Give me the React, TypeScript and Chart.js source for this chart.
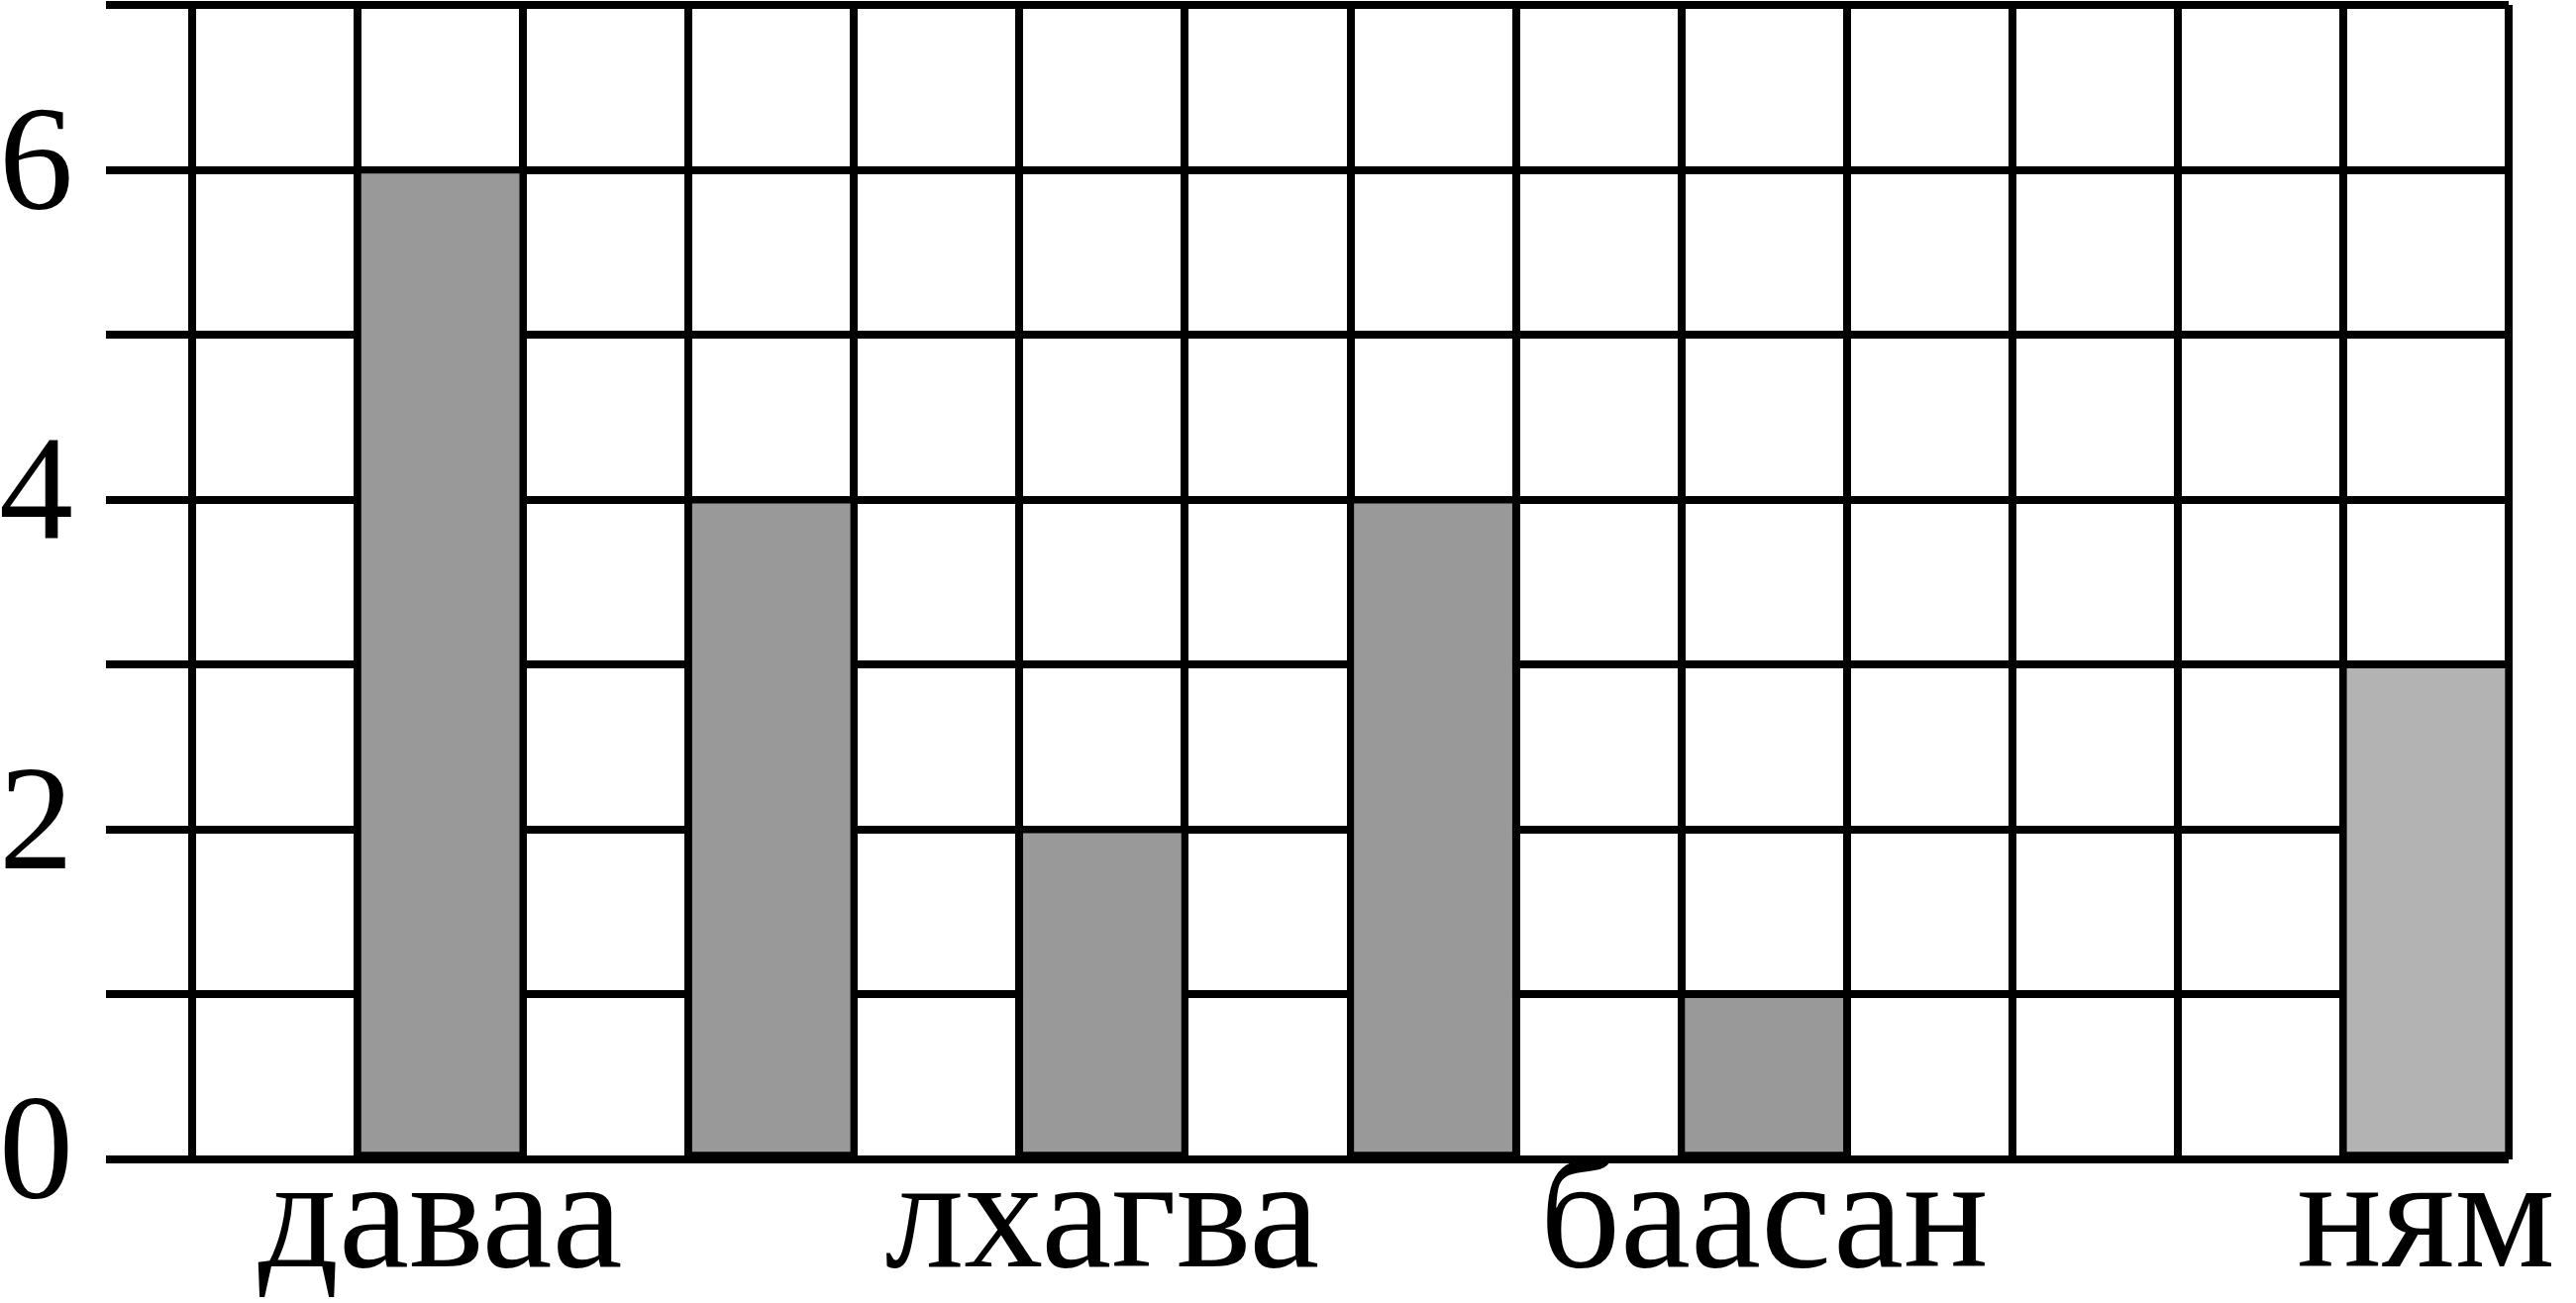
import React, { useEffect, useRef } from "react";
import { Chart, registerables } from "chart.js";

Chart.register(...registerables);

// 14 grid columns; bars sit in every other column
const xLabels = ["", "даваа", "", "", "", "лхагва", "", "", "", "баасан", "", "", "", "ням"];
const barValues = [null, 6, null, 4, null, 2, null, 4, null, 1, null, null, null, 3];
const yShownTicks = [0, 2, 4, 6];
const yMin = 0;
const yMax = 7;

export default function App() {
  const ref = useRef<HTMLCanvasElement | null>(null);

  useEffect(() => {
    if (!ref.current) return;
    const fills = barValues.map((_, i) => (i === barValues.length - 1 ? "#b3b3b3" : "#999999"));
    const chart = new Chart(ref.current, {
      type: "bar",
      data: {
        labels: xLabels,
        datasets: [
          {
            data: barValues,
            backgroundColor: fills,
            borderColor: "#000000",
            borderWidth: 4,
            borderSkipped: false,
            barPercentage: 1,
            categoryPercentage: 1,
          },
        ],
      },
      options: {
        animation: false,
        responsive: false,
        devicePixelRatio: 1,
        layout: { padding: { top: 5, right: 68, left: 0, bottom: 0 } },
        plugins: { legend: { display: false }, tooltip: { enabled: false } },
        scales: {
          x: {
            offset: true,
            grid: { color: "#000", lineWidth: 8, drawTicks: false, offset: true },
            border: { display: false },
            ticks: {
              autoSkip: false,
              maxRotation: 0,
              minRotation: 0,
              padding: -30,
              color: "#000",
              font: { family: "'Liberation Serif', serif", size: 160 },
            },
            afterFit: (s: any) => {
              s.height = 145;
              s.paddingLeft = 0;
              s.paddingRight = 0;
            },
          },
          y: {
            min: yMin,
            max: yMax,
            grid: { color: "#000", lineWidth: 8, drawTicks: true, tickLength: 87, tickColor: "#000", tickWidth: 8 },
            border: { display: false },
            ticks: {
              stepSize: 1,
              autoSkip: false,
              padding: 33,
              color: "#000",
              font: { family: "'Liberation Serif', serif", size: 150 },
              callback: (v: any) => (yShownTicks.includes(Number(v)) ? String(v) : ""),
            },
            afterFit: (s: any) => {
              s.width = 194;
              s.paddingTop = 0;
              s.paddingBottom = 0;
            },
          },
        },
      },
    });
    return () => chart.destroy();
  }, []);

  return (
    <div style={{ position: "absolute", left: 0, top: 0, width: 2601, height: 1316, background: "#fff" }}>
      <canvas ref={ref} width={2601} height={1316} style={{ display: "block" }} />
    </div>
  );
}
